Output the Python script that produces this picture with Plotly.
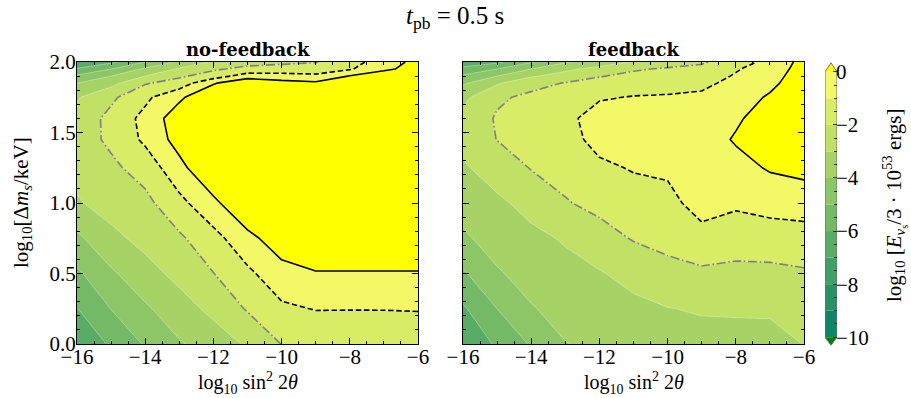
import numpy as np
import plotly.graph_objects as go

# ---------------- data ----------------
x_vals = [-16, -15, -14, -13, -12, -11, -10, -9, -8, -7, -6]          # log10 sin^2 2theta
y_vals = [0, 0.25, 0.5, 0.75, 1.0, 1.25, 1.45, 1.6, 1.75, 1.85, 1.9, 1.95, 2.0]  # log10 dm/keV

# log10 E / 3e53 erg, one list per x column (bottom -> top)
nofb_cols = [
    [-6.9, -6.03, -5.17, -4.2, -3.09, -2.71, -2.46, -2.65, -3.09, -4.0, -4.83, -5.89, -6.9],
    [-5.85, -4.98, -4.16, -3.23, -2.65, -2.2, -1.81, -1.71, -2.2, -3.3, -4.0, -5.0, -6.2],
    [-4.9, -4.15, -3.33, -2.73, -2.27, -1.6, -0.81, -0.71, -1.21, -2.09, -3.0, -3.83, -5.0],
    [-4.1, -3.4, -2.74, -2.16, -1.28, -0.31, 0.4, 0.6, -0.2, -1.56, -2.17, -2.86, -3.8],
    [-3.5, -2.76, -2.02, -1.34, -0.25, 1.0, 1.5, 1.5, 1.0, -0.1, -1.5, -2.15, -2.85],
    [-2.88, -1.91, -1.2, -0.31, 1.0, 1.8, 2.0, 2.0, 1.5, 0.9, -0.5, -1.7, -2.4],
    [-1.98, -1.17, -0.38, 0.6, 1.5, 2.2, 2.4, 2.4, 1.8, 0.4, -0.6, -1.6, -2.2],
    [-1.8, -0.96, -0.07, 0.9, 1.8, 2.5, 2.8, 2.8, 2.0, 0.2, -0.8, -1.5, -2.05],
    [-1.75, -0.97, -0.07, 0.9, 1.9, 2.6, 3.0, 3.0, 2.4, 1.0, 0.05, -1.1, -1.4],
    [-1.7, -0.97, -0.07, 0.9, 2.0, 2.7, 3.1, 3.1, 2.6, 1.4, 0.6, -0.2, -0.5],
    [-1.6, -0.95, -0.07, 0.9, 2.0, 2.8, 3.2, 3.2, 2.8, 1.9, 1.0, 0.4, 0.3],
]

fb_cols = [
    [-6.85, -6.14, -5.13, -4.15, -3.6, -3.12, -2.66, -2.7, -3.24, -4.14, -4.86, -5.67, -6.7],
    [-5.85, -5.0, -4.1, -3.61, -3.18, -2.56, -1.98, -1.9, -2.15, -3.1, -4.0, -5.0, -6.2],
    [-4.9, -4.07, -3.63, -3.24, -2.68, -1.95, -1.65, -1.56, -1.8, -2.3, -3.1, -4.0, -5.1],
    [-4.03, -3.67, -3.31, -2.9, -2.07, -1.67, -1.35, -1.27, -1.5, -1.95, -2.6, -3.2, -4.1],
    [-3.8, -3.44, -3.07, -2.39, -1.73, -1.18, -0.7, -0.55, -1.1, -1.7, -2.05, -2.7, -3.5],
    [-3.6, -3.23, -2.7, -1.93, -1.42, -0.93, -0.4, -0.35, -0.95, -1.5, -1.78, -2.1, -2.9],
    [-3.45, -3.03, -2.29, -1.72, -1.26, -0.85, -0.3, -0.25, -0.9, -1.4, -1.6, -1.9, -2.4],
    [-3.35, -2.91, -2.19, -1.3, -0.65, -0.5, -0.5, -0.55, -0.8, -1.25, -1.5, -1.8, -2.1],
    [-3.3, -2.9, -2.26, -1.53, -0.85, -0.35, 0.1, -0.15, -0.4, -0.7, -0.9, -1.1, -1.6],
    [-3.3, -2.88, -2.25, -1.46, -0.66, 0.1, 0.6, 0.5, 0.1, -0.2, -0.3, -0.45, -0.6],
    [-2.98, -2.56, -2.12, -1.39, -0.57, 0.3, 0.9, 1.0, 0.8, 0.5, 0.4, 0.34, 0.27],
]

levels = [-10, -9, -8, -7, -6, -5, -4, -3, -2, -1, 0]
cbar_ticks = [0, -2, -4, -6, -8, -10]
x_ticks = [-16, -14, -12, -10, -8, -6]
y_ticks = [0.0, 0.5, 1.0, 1.5, 2.0]
panel_titles = ["no-feedback", "feedback"]

# ---------------- colours (matplotlib "summer", extend both) ----------------
def summer(v):
    i = min(int(v * 256), 255) / 255.0
    return "rgb(%d,%d,%d)" % (round(i * 255), round((0.5 + 0.5 * i) * 255), round(0.4 * 255))

under_color = "rgb(0,128,0)"
over_color = "rgb(255,255,0)"
n_bands = len(levels) - 1
band_colors = [summer((k + 0.5) / n_bands) for k in range(n_bands)]
all_colors = [under_color] + band_colors + [over_color]
N = len(all_colors)
colorscale = []
for j, c in enumerate(all_colors):
    lo = max(0.0, (j - 0.5) / (N - 1))
    hi = min(1.0, (j + 0.5) / (N - 1))
    colorscale.append([lo, c])
    colorscale.append([hi, c])

FONT = "Liberation Serif"
BOLDFONT = "DejaVu Serif"
W, H = 911, 398

def px_x(p):
    return p / W

def px_y(p):
    return 1 - p / H

fig = go.Figure()

line_specs = [(0, "black", "solid"), (-1, "black", "5.5px,2.6px"), (-2, "#808080", "9px,2.6px,1.6px,2.6px")]

for cols, xa, ya in [(nofb_cols, "x", "y"), (fb_cols, "x2", "y2")]:
    z = np.array(cols).T.tolist()
    fig.add_trace(go.Contour(
        x=x_vals, y=y_vals, z=z, xaxis=xa, yaxis=ya,
        autocontour=False,
        contours=dict(start=levels[0], end=levels[-1], size=1, coloring="fill", showlines=True),
        colorscale=colorscale, showscale=False,
        line=dict(width=0.6, color="rgba(255,255,255,0.55)", smoothing=0),
        hoverinfo="skip"))
    for lev, col, dash in line_specs:
        fig.add_trace(go.Contour(
            x=x_vals, y=y_vals, z=z, xaxis=xa, yaxis=ya,
            autocontour=False,
            contours=dict(start=lev, end=lev, size=1, coloring="none", showlines=True),
            showscale=False,
            line=dict(width=1.6, color=col, dash=dash, smoothing=0),
            hoverinfo="skip"))

# ---------------- hand-built colour bar with extension triangles ----------------
ext_top, ext_bot = 0.34, 0.30
fig.add_trace(go.Bar(
    x=[0.5] * n_bands, y=[levels[k + 1] - levels[k] for k in range(n_bands)],
    base=levels[:-1], width=1, marker=dict(color=band_colors, line=dict(width=0)),
    xaxis="x3", yaxis="y3", hoverinfo="skip", showlegend=False))
fig.add_trace(go.Scatter(
    x=[0, 1, 0.5, 0], y=[levels[-1], levels[-1], levels[-1] + ext_top, levels[-1]],
    fill="toself", fillcolor=over_color, mode="none", xaxis="x3", yaxis="y3",
    hoverinfo="skip", showlegend=False))
fig.add_trace(go.Scatter(
    x=[0, 1, 0.5, 0], y=[levels[0], levels[0], levels[0] - ext_bot, levels[0]],
    fill="toself", fillcolor=under_color, mode="none", xaxis="x3", yaxis="y3",
    hoverinfo="skip", showlegend=False))
fig.add_trace(go.Scatter(
    x=[0, 0, 0.5, 1, 1, 0.5, 0],
    y=[levels[0], levels[-1], levels[-1] + ext_top, levels[-1], levels[0], levels[0] - ext_bot, levels[0]],
    mode="lines", line=dict(color="#6e6e6e", width=1), xaxis="x3", yaxis="y3",
    hoverinfo="skip", showlegend=False))

tickfont = dict(family=FONT, size=21, color="black")
common = dict(showline=True, linecolor="black", linewidth=1.2, mirror="allticks",
              ticks="inside", ticklen=6, tickwidth=1, tickcolor="black",
              showgrid=False, zeroline=False, tickfont=tickfont, automargin=False)
xminor = dict(dtick=0.5, ticks="inside", ticklen=3, tickwidth=1, tickcolor="black", showgrid=False)
yminor = dict(dtick=0.1, ticks="inside", ticklen=3, tickwidth=1, tickcolor="black", showgrid=False)

ydom = [px_y(344), px_y(62)]
fig.update_layout(
    width=W, height=H, margin=dict(l=0, r=0, t=0, b=0, pad=0), autosize=False,
    paper_bgcolor="white", plot_bgcolor="white", showlegend=False, barmode="overlay",
    xaxis=dict(domain=[px_x(77), px_x(418)], range=[-16, -6], tickvals=x_ticks, minor=xminor,
               anchor="y", ticklabelstandoff=-6, **common),
    yaxis=dict(domain=ydom, range=[0, 2], tickvals=y_ticks, tickformat=".1f", minor=yminor,
               anchor="x", ticklabelstandoff=-4, **common),
    xaxis2=dict(domain=[px_x(463), px_x(804)], range=[-16, -6], tickvals=x_ticks, minor=xminor,
                anchor="y2", ticklabelstandoff=-6, **common),
    yaxis2=dict(domain=ydom, range=[0, 2], tickvals=y_ticks, minor=yminor, showticklabels=False,
                anchor="x2", **common),
    xaxis3=dict(domain=[px_x(825), px_x(837)], range=[0, 1], visible=False, anchor="y3",
                fixedrange=True, automargin=False),
    yaxis3=dict(domain=[px_y(346), px_y(62)], range=[levels[0] - ext_bot - 0.03, levels[-1] + ext_top + 0.03],
                anchor="x3", side="right", showline=False, showgrid=False, zeroline=False,
                ticks="inside", ticklen=4, tickwidth=1, tickcolor="#333333", automargin=False,
                tickvals=cbar_ticks, ticktext=[("\u2212%d" % -t) if t < 0 else "%d" % t for t in cbar_ticks],
                minor=dict(dtick=0.5, ticks="inside", ticklen=3, tickcolor="#333333", showgrid=False),
                ticklabelstandoff=-2, tickfont=tickfont),
)

ann = []
ann.append(dict(text="<i>t</i><sub>pb</sub>\u00a0=\u00a00.5\u00a0s", x=px_x(455), y=px_y(18), xref="paper", yref="paper",
                showarrow=False, font=dict(family=FONT, size=25, color="black"), xanchor="center", yanchor="middle"))
for t, cx in zip(panel_titles, [247.5, 633.5]):
    ann.append(dict(text="<b>%s</b>" % t, x=px_x(cx), y=px_y(50), xref="paper", yref="paper",
                    showarrow=False, font=dict(family=BOLDFONT, size=18, color="black"),
                    xanchor="center", yanchor="middle"))
    ann.append(dict(text="log<sub>10</sub> sin<sup>2</sup> 2<i>θ</i>", x=px_x(cx), y=px_y(383),
                    xref="paper", yref="paper", showarrow=False,
                    font=dict(family=FONT, size=20, color="black"), xanchor="center", yanchor="middle"))
ann.append(dict(text="log<sub>10</sub>[Δ<i>m</i><sub><i>s</i></sub>/keV]", x=px_x(22), y=px_y(203),
                xref="paper", yref="paper", showarrow=False, textangle=-90,
                font=dict(family=FONT, size=21, color="black"), xanchor="center", yanchor="middle"))
ann.append(dict(text="log<sub>10</sub> [<i>E</i><sub><i>ν</i><sub>s</sub></sub>/3 · 10<sup>53</sup> ergs]",
                x=px_x(895), y=px_y(205), xref="paper", yref="paper", showarrow=False, textangle=-90,
                font=dict(family=FONT, size=21, color="black"), xanchor="center", yanchor="middle"))
fig.update_layout(annotations=ann)

fig.write_html("out.html", config={"displayModeBar": False},
               post_script="document.body.style.margin='0px';document.body.style.overflow='hidden';")
